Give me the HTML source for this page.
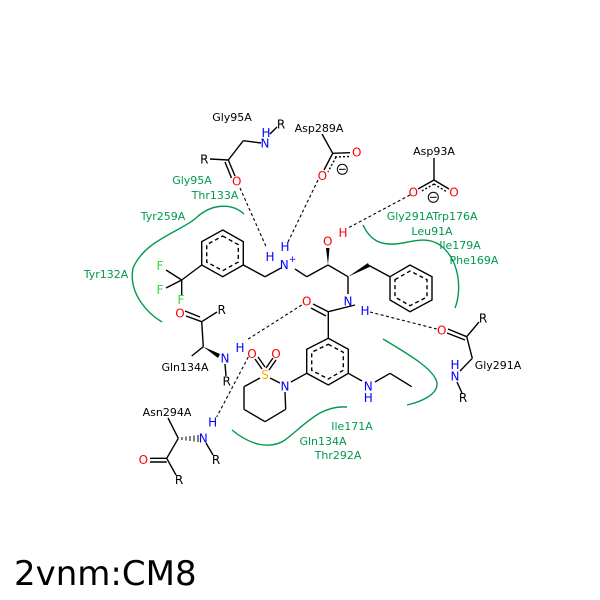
<!DOCTYPE html>
<html><head><meta charset="utf-8"><style>
html,body{margin:0;padding:0;background:#fff;}
svg{display:block;}
text{font-family:"DejaVu Sans","Liberation Sans",sans-serif;}
.a{font-size:12px;text-anchor:middle;dominant-baseline:central;}
.g{font-size:11px;fill:#00994d;}
.r{font-size:11px;fill:#000;}
</style></head><body>
<svg width="600" height="600" viewBox="0 0 600 600" xmlns="http://www.w3.org/2000/svg">
<rect width="600" height="600" fill="#fff"/>
<!-- hydrophobic arcs -->
<g fill="none" stroke="#00994d" stroke-width="1.4">
<path d="M244,214 C232,203 212,203 196,218 C180,232 145,240 133,268 C128,295 150,315 162,322"/>
<path d="M363,225 C370,240 380,245 395,244 C410,243 425,235 440,245 C460,260 462,290 455,308"/>
<path d="M383,339 C410,355 435,370 437,383 C438,395 420,402 407,405"/>
<path d="M232,430 C250,445 270,450 285,440 C305,425 320,405 347,407"/>
</g>
<!-- H bonds -->
<g stroke="#000" stroke-width="1.1" stroke-dasharray="3,2.5" fill="none">
<line x1="240" y1="188" x2="266.7" y2="248"/>
<line x1="318" y1="180" x2="288" y2="242"/>
<line x1="410" y1="195" x2="348" y2="228"/>
<line x1="370" y1="312" x2="436.7" y2="329"/>
<line x1="301.7" y1="305" x2="246.7" y2="340"/>
<line x1="248.3" y1="357" x2="216.7" y2="417"/>
</g>
<g stroke="#000" stroke-width="1.4" fill="none">
<!-- left ring -->
<polygon points="222.7,230 243.3,241.7 243.3,265 222.7,276.7 201.7,265 201.7,241.7"/>
<polygon points="222.7,236 238.3,244.7 238.3,262 222.7,270.7 206.7,262 206.7,244.7" stroke-dasharray="4,3"/>
<line x1="201.7" y1="265" x2="181.7" y2="280"/>
<line x1="181.7" y1="280" x2="166" y2="270"/>
<line x1="181.7" y1="280" x2="166" y2="288"/>
<line x1="181.7" y1="280" x2="181.7" y2="295"/>
<line x1="243.3" y1="265" x2="265" y2="276.7"/>
<line x1="265" y1="276.7" x2="281" y2="268"/>
<line x1="295" y1="269" x2="306.7" y2="276.7"/>
<line x1="306.7" y1="276.7" x2="328" y2="265"/>
<line x1="328" y1="265" x2="348" y2="276.7"/>
<line x1="368" y1="265" x2="390" y2="276.7"/>
<line x1="348" y1="276.7" x2="348" y2="294"/>
<!-- right ring -->
<polygon points="390,276.7 410,265 432,276.7 432,300 410,311.7 390,300"/>
<polygon points="395,279.7 410,271 427,279.7 427,297 410,305.7 395,297" stroke-dasharray="4,3"/>
<!-- amide -->
<line x1="355" y1="305" x2="328.3" y2="311.7"/>
<line x1="328.3" y1="311.7" x2="313" y2="304"/>
<line x1="326" y1="316" x2="311" y2="308"/>
<line x1="328.3" y1="311.7" x2="328.3" y2="338.3"/>
<!-- middle ring -->
<polygon points="328.3,338.3 348.3,349.3 348.3,373.3 328.3,385 306.7,373.3 306.7,349.3"/>
<polygon points="328.3,344.3 343.3,352.3 343.3,370.3 328.3,379 311.7,370.3 311.7,352.3" stroke-dasharray="4,3"/>
<line x1="348.3" y1="373.3" x2="362" y2="381"/>
<line x1="375" y1="382" x2="390" y2="373.3"/>
<line x1="390" y1="373.3" x2="411.7" y2="386.7"/>
<line x1="306.7" y1="373.3" x2="291" y2="382"/>
<!-- sultam ring -->
<line x1="280" y1="383" x2="270" y2="378"/>
<line x1="260" y1="378" x2="244" y2="386.7"/>
<line x1="244" y1="386.7" x2="244" y2="409.3"/>
<line x1="244" y1="409.3" x2="265" y2="421.7"/>
<line x1="265" y1="421.7" x2="285.7" y2="409.3"/>
<line x1="285.7" y1="409.3" x2="285" y2="392"/>
<line x1="262" y1="369" x2="255" y2="359"/>
<line x1="265" y1="367" x2="258" y2="357"/>
<line x1="266" y1="368" x2="273" y2="358"/>
<line x1="269" y1="370" x2="276" y2="360"/>
<!-- Gly95A top -->
<line x1="261" y1="143" x2="243.3" y2="140.7"/>
<line x1="243.3" y1="140.7" x2="228.3" y2="160"/>
<line x1="228.3" y1="160" x2="210" y2="159"/>
<line x1="228.3" y1="160" x2="235" y2="176"/>
<line x1="225" y1="162" x2="231.5" y2="178"/>
<line x1="270" y1="134" x2="277" y2="127"/>
<!-- Asp289A -->
<line x1="322" y1="134" x2="332.7" y2="153.3"/>
<line x1="332.7" y1="153.3" x2="350" y2="152.7"/>
<line x1="332.7" y1="153.3" x2="324" y2="170"/>
<line x1="335" y1="157" x2="350" y2="156.5" stroke-dasharray="2,2"/>
<line x1="336" y1="157" x2="328" y2="172" stroke-dasharray="2,2"/>
<!-- Asp93A -->
<line x1="434" y1="158" x2="434" y2="180"/>
<line x1="434" y1="180" x2="418" y2="189"/>
<line x1="434" y1="180" x2="449" y2="189"/>
<line x1="434" y1="184" x2="420" y2="192" stroke-dasharray="2,2"/>
<line x1="434" y1="184" x2="447" y2="192" stroke-dasharray="2,2"/>
<!-- Gln134A -->
<line x1="186" y1="316" x2="201.7" y2="321.7"/>
<line x1="185" y1="311" x2="200" y2="317"/>
<line x1="201.7" y1="321.7" x2="217" y2="312"/>
<line x1="201.7" y1="321.7" x2="203.3" y2="346.7"/>
<line x1="203.3" y1="346.7" x2="191.7" y2="356"/>
<line x1="225" y1="364" x2="226" y2="376"/>
<!-- Asn294A -->
<line x1="168" y1="418" x2="178.3" y2="438.3"/>
<line x1="178.3" y1="438.3" x2="166.7" y2="458.3"/>
<line x1="166.7" y1="458.3" x2="150" y2="458.3"/>
<line x1="166.7" y1="462" x2="150" y2="462"/>
<line x1="166.7" y1="458.3" x2="176" y2="475"/>
<line x1="206" y1="443" x2="213" y2="455"/>
<!-- Gly291A -->
<line x1="448" y1="329" x2="466.7" y2="336.7"/>
<line x1="447" y1="333" x2="465" y2="340"/>
<line x1="466.7" y1="336.7" x2="479" y2="322"/>
<line x1="466.7" y1="336.7" x2="472.3" y2="358.3"/>
<line x1="472.3" y1="358.3" x2="460" y2="371"/>
<line x1="457" y1="382" x2="462" y2="393"/>
</g>
<!-- wedges -->
<polygon points="328,265 326,248 329.5,248" fill="#000"/>
<polygon points="348,276.7 368,263 369.5,267" fill="#000"/>
<polygon points="203.3,346.7 220,354 218,358" fill="#000"/>
<g stroke="#000" stroke-width="1">
<line x1="182" y1="437" x2="182" y2="440"/><line x1="186" y1="436.5" x2="186" y2="440.5"/><line x1="190" y1="436" x2="190" y2="441"/><line x1="194" y1="435.5" x2="194" y2="441.5"/><line x1="198" y1="435" x2="198" y2="442"/>
</g>
<!-- atom labels -->
<g class="a">
<text x="160" y="266" fill="#33dd33">F</text>
<text x="160" y="290" fill="#33dd33">F</text>
<text x="181" y="300" fill="#33dd33">F</text>
<text x="288" y="265" fill="#0000ff">N<tspan font-size="9" dy="-5">+</tspan></text>
<text x="270" y="257" fill="#0000ff">H</text>
<text x="285" y="247" fill="#0000ff">H</text>
<text x="327.7" y="241.7" fill="#ff0000">O</text>
<text x="343" y="233" fill="#ff0000">H</text>
<text x="348" y="301.7" fill="#0000ff">N</text>
<text x="365" y="311" fill="#0000ff">H</text>
<text x="306.7" y="301.7" fill="#ff0000">O</text>
<text x="368.3" y="386.7" fill="#0000ff">N</text>
<text x="368.3" y="398" fill="#0000ff">H</text>
<text x="285" y="386.7" fill="#0000ff">N</text>
<text x="265" y="375" fill="#ffaa00">S</text>
<text x="252" y="354" fill="#ff0000">O</text>
<text x="276" y="354" fill="#ff0000">O</text>
<text x="265" y="143.3" fill="#0000ff">N</text>
<text x="266" y="133" fill="#0000ff">H</text>
<text x="281" y="124.3">R</text>
<text x="204.3" y="159.3">R</text>
<text x="236.7" y="181.7" fill="#ff0000">O</text>
<text x="356.7" y="152.7" fill="#ff0000">O</text>
<text x="322.3" y="176" fill="#ff0000">O</text>
<text x="413.3" y="192.7" fill="#ff0000">O</text>
<text x="454" y="192.7" fill="#ff0000">O</text>
<text x="180" y="313.3" fill="#ff0000">O</text>
<text x="221.7" y="310">R</text>
<text x="225" y="358.3" fill="#0000ff">N</text>
<text x="240" y="348" fill="#0000ff">H</text>
<text x="226.7" y="381.7">R</text>
<text x="203.3" y="438.3" fill="#0000ff">N</text>
<text x="212.7" y="422.7" fill="#0000ff">H</text>
<text x="216" y="460">R</text>
<text x="143.3" y="460" fill="#ff0000">O</text>
<text x="179" y="480">R</text>
<text x="441.7" y="330.7" fill="#ff0000">O</text>
<text x="483" y="318.3">R</text>
<text x="455" y="376.7" fill="#0000ff">N</text>
<text x="455" y="365" fill="#0000ff">H</text>
<text x="463" y="398">R</text>
</g>
<g fill="none" stroke="#000" stroke-width="1">
<circle cx="342.3" cy="169.3" r="5"/><line x1="339" y1="169.3" x2="345.6" y2="169.3"/>
<circle cx="433.3" cy="197.3" r="5"/><line x1="430" y1="197.3" x2="436.6" y2="197.3"/>
</g>
<!-- residue labels -->
<g class="r" text-anchor="middle">
<text x="232" y="121">Gly95A</text>
<text x="319" y="132">Asp289A</text>
<text x="434" y="155">Asp93A</text>
<text x="185" y="371">Gln134A</text>
<text x="167" y="416">Asn294A</text>
<text x="498" y="369">Gly291A</text>
</g>
<g class="g" text-anchor="middle">
<text x="192" y="184">Gly95A</text>
<text x="215" y="199">Thr133A</text>
<text x="163" y="220">Tyr259A</text>
<text x="106" y="278">Tyr132A</text>
<text x="410" y="220">Gly291A</text>
<text x="455" y="220">Trp176A</text>
<text x="432" y="235">Leu91A</text>
<text x="460" y="249">Ile179A</text>
<text x="474" y="264">Phe169A</text>
<text x="352" y="430">Ile171A</text>
<text x="323" y="445">Gln134A</text>
<text x="338" y="459">Thr292A</text>
</g>
<text x="14" y="585" font-size="34" fill="#000" style="font-family:'DejaVu Sans','Liberation Sans',sans-serif">2vnm:CM8</text>
</svg>
</body></html>
